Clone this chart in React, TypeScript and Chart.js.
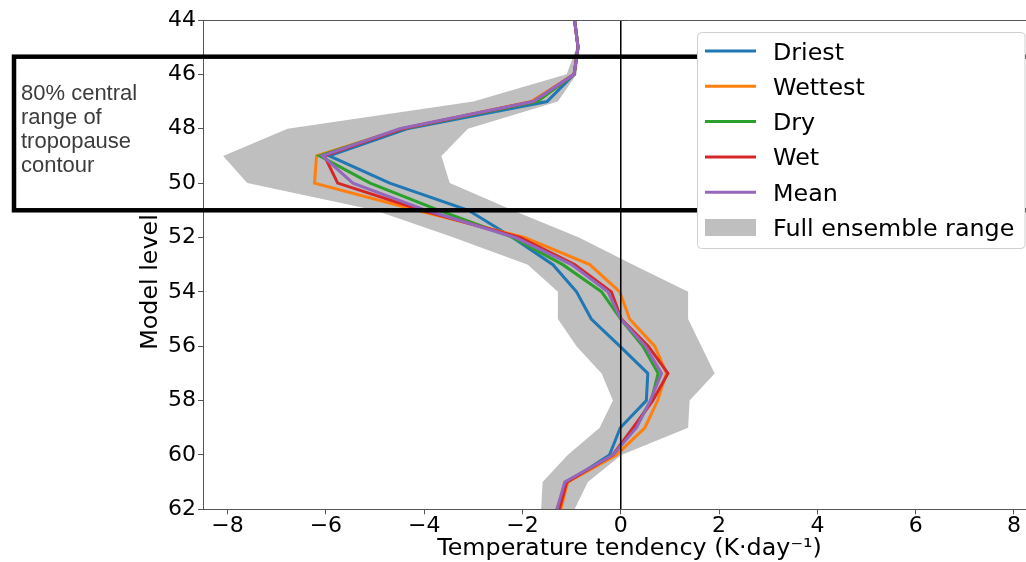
import React, { useEffect, useRef } from 'react';
import { Chart, registerables } from 'chart.js';

Chart.register(...registerables);

// ---------- data ----------
const levels = [44, 45, 46, 47, 48, 49, 50, 51, 52, 53, 54, 55, 56, 57, 58, 59, 60, 61, 62];

const driest = [-0.94, -0.87, -0.95, -1.5, -4.35, -5.93, -4.7, -3.1, -2.2, -1.38, -0.9, -0.6, -0.02, 0.55, 0.52, -0.01, -0.23, -1.08, -1.3];
const wettest = [-0.94, -0.87, -0.95, -1.82, -4.45, -6.19, -6.23, -4.15, -1.96, -0.63, -0.02, 0.18, 0.69, 0.93, 0.75, 0.49, -0.09, -1.08, -1.22];
const dry = [-0.94, -0.87, -0.95, -1.7, -4.45, -6.13, -5.1, -3.7, -2.2, -1.18, -0.39, 0.0, 0.45, 0.76, 0.62, 0.28, -0.16, -1.12, -1.28];
const wet = [-0.94, -0.87, -0.95, -1.78, -4.45, -6.03, -5.76, -4.05, -2.05, -0.94, -0.19, 0.01, 0.56, 0.96, 0.65, 0.25, -0.16, -1.1, -1.25];
const mean = [-0.94, -0.87, -0.95, -1.78, -4.5, -6.07, -5.45, -3.96, -2.15, -1.0, -0.26, 0.0, 0.5, 0.83, 0.6, 0.32, -0.16, -1.14, -1.3];

const ensembleMin = [-0.97, -0.9, -1.1, -3.0, -6.78, -8.09, -7.6, -5.0, -3.4, -1.89, -1.28, -1.28, -0.9, -0.39, -0.16, -0.43, -1.08, -1.59, -1.62];
const ensembleMax = [-0.91, -0.84, -0.9, -1.28, -3.11, -3.65, -3.48, -2.2, -0.85, 0.25, 1.37, 1.37, 1.64, 1.91, 1.4, 1.37, 0.01, -0.67, -0.94];

const zeroLineX = [0, 0];
const zeroLineLevels = [44, 62];

const seriesNames = ['Driest', 'Wettest', 'Dry', 'Wet', 'Mean'];
const seriesColors = ['#1f77b4', '#ff7f0e', '#2ca02c', '#d62728', '#9467bd'];
const rangeLabel = 'Full ensemble range';
const rangeColor = '#bfbfbf';

const xTickValues = [-8, -6, -4, -2, 0, 2, 4, 6, 8];
const xTickLabels = ['\u22128', '\u22126', '\u22124', '\u22122', '0', '2', '4', '6', '8'];
const yTickValues = [44, 46, 48, 50, 52, 54, 56, 58, 60, 62];
const yTickLabels = ['44', '46', '48', '50', '52', '54', '56', '58', '60', '62'];

const xTitle = 'Temperature tendency (K\u00b7day\u207b\u00b9)';
const yTitle = 'Model level';

const tropopauseRange = [45.35, 51.0];
const annotationLines = ['80% central', 'range of', 'tropopause', 'contour'];

// ---------- styling ----------
const FAMILY = '"DejaVu Sans", sans-serif';
const AXIS_COLOR = '#555555';

const toPoints = (xs: number[], ys: number[]) => xs.map((x, i) => ({ x, y: ys[i] }));

const overlayPlugin = {
  id: 'overlay',
  afterDraw(chart: any) {
    const { ctx, chartArea, scales } = chart;
    const yS = scales.y;
    ctx.save();

    // top spine
    ctx.strokeStyle = AXIS_COLOR;
    ctx.lineWidth = 1;
    ctx.beginPath();
    ctx.moveTo(chartArea.left, Math.round(chartArea.top) + 0.5);
    ctx.lineTo(chartArea.right, Math.round(chartArea.top) + 0.5);
    ctx.stroke();

    // y axis title
    ctx.save();
    ctx.translate(151, 282);
    ctx.rotate(-Math.PI / 2);
    ctx.fillStyle = '#000000';
    ctx.font = '23.8px ' + FAMILY;
    ctx.textAlign = 'center';
    ctx.textBaseline = 'middle';
    ctx.fillText(yTitle, 0, 0);
    ctx.restore();

    // tropopause rectangle
    const yTop = yS.getPixelForValue(tropopauseRange[0]);
    const yBot = yS.getPixelForValue(tropopauseRange[1]);
    ctx.strokeStyle = '#000000';
    ctx.lineWidth = 4.5;
    ctx.lineJoin = 'miter';
    ctx.strokeRect(14, yTop, chart.width + 20, yBot - yTop);

    // annotation text
    ctx.fillStyle = '#3c3c3c';
    ctx.font = '22px "Liberation Sans", Arial, sans-serif';
    ctx.textAlign = 'left';
    ctx.textBaseline = 'alphabetic';
    annotationLines.forEach((t, i) => {
      ctx.fillText(t, 21, 99.5 + i * 24.2);
    });

    // legend
    const lx = 697.5, ly = 32.5, lw = 327.5, lh = 216;
    ctx.beginPath();
    ctx.roundRect(lx, ly, lw, lh, 4);
    ctx.fillStyle = '#ffffff';
    ctx.fill();
    ctx.strokeStyle = '#d0d0d0';
    ctx.lineWidth = 1;
    ctx.stroke();

    ctx.font = '23.8px ' + FAMILY;
    ctx.textBaseline = 'alphabetic';
    const step = 35.3;
    seriesNames.forEach((name, i) => {
      const cy = 51 + i * step;
      ctx.strokeStyle = seriesColors[i];
      ctx.lineWidth = 3;
      ctx.lineCap = 'butt';
      ctx.beginPath();
      ctx.moveTo(705, cy);
      ctx.lineTo(756, cy);
      ctx.stroke();
      ctx.fillStyle = '#000000';
      ctx.fillText(name, 773, cy + 8.5);
    });
    const cy = 51 + 5 * step;
    ctx.fillStyle = rangeColor;
    ctx.fillRect(705, cy - 8.5, 51, 17);
    ctx.fillStyle = '#000000';
    ctx.fillText(rangeLabel, 773, cy + 8.5);

    ctx.restore();
  },
};

export default function App() {
  const canvasRef = useRef<HTMLCanvasElement | null>(null);

  useEffect(() => {
    const canvas = canvasRef.current;
    if (!canvas) return;

    const seriesData = [driest, wettest, dry, wet, mean];
    const lineSets = seriesNames.map((name, i) => ({
      label: name,
      data: toPoints(seriesData[i], levels),
      borderColor: seriesColors[i],
      backgroundColor: seriesColors[i],
      borderWidth: 3,
      pointRadius: 0,
      fill: false,
      tension: 0,
    }));

    const datasets: any[] = [
      {
        label: 'zero',
        data: toPoints(zeroLineX, zeroLineLevels),
        borderColor: '#000000',
        borderWidth: 1.5,
        pointRadius: 0,
        fill: false,
      },
      ...lineSets.slice().reverse(),
      {
        label: rangeLabel,
        data: toPoints(ensembleMax, levels),
        borderColor: 'rgba(0,0,0,0)',
        backgroundColor: rangeColor,
        borderWidth: 1,
        pointRadius: 0,
        fill: '+1',
        tension: 0,
      },
      {
        label: 'min',
        data: toPoints(ensembleMin, levels),
        borderColor: 'rgba(0,0,0,0)',
        backgroundColor: rangeColor,
        borderWidth: 1,
        pointRadius: 0,
        fill: false,
        tension: 0,
      },
    ];

    const chart = new Chart(canvas, {
      type: 'line',
      data: { datasets },
      plugins: [overlayPlugin],
      options: {
        responsive: false,
        animation: false,
        indexAxis: 'y',
        layout: { padding: { top: 20, left: 0, right: 0, bottom: 0 } },
        plugins: {
          legend: { display: false },
          tooltip: { enabled: false },
        },
        scales: {
          x: {
            type: 'linear',
            min: -8.5,
            max: 8.855,
            afterBuildTicks: (s: any) => {
              s.ticks = xTickValues.map((v) => ({ value: v }));
            },
            afterFit: (s: any) => {
              s.height = 52.7;
            },
            ticks: {
              autoSkip: false,
              maxRotation: 0,
              padding: 1,
              color: '#000000',
              font: { family: FAMILY, size: 22, lineHeight: 1 },
              callback: (v: any) => xTickLabels[xTickValues.indexOf(Number(v))],
            },
            grid: { drawOnChartArea: false, drawTicks: true, tickLength: 5, color: AXIS_COLOR },
            border: { display: true, color: AXIS_COLOR, width: 1 },
            title: {
              display: true,
              text: xTitle,
              color: '#000000',
              font: { family: FAMILY, size: 23.8, lineHeight: 1 },
              padding: { top: 0, bottom: 1 },
            },
          },
          y: {
            type: 'linear',
            reverse: true,
            min: 44,
            max: 62,
            afterBuildTicks: (s: any) => {
              s.ticks = yTickValues.map((v) => ({ value: v }));
            },
            afterFit: (s: any) => {
              s.width = 203;
            },
            ticks: {
              autoSkip: false,
              padding: 2,
              color: '#000000',
              font: { family: FAMILY, size: 22, lineHeight: 1 },
              callback: (v: any) => yTickLabels[yTickValues.indexOf(Number(v))],
            },
            grid: { drawOnChartArea: false, drawTicks: true, tickLength: 5, color: AXIS_COLOR },
            border: { display: true, color: AXIS_COLOR, width: 1 },
            title: { display: false },
          },
        },
      } as any,
    });

    return () => chart.destroy();
  }, []);

  return (
    <div style={{ position: 'absolute', left: 0, top: 0, width: 1026, height: 562, overflow: 'hidden', background: '#ffffff' }}>
      <canvas ref={canvasRef} width={1056} height={562} style={{ display: 'block', width: 1056, height: 562 }} />
    </div>
  );
}
